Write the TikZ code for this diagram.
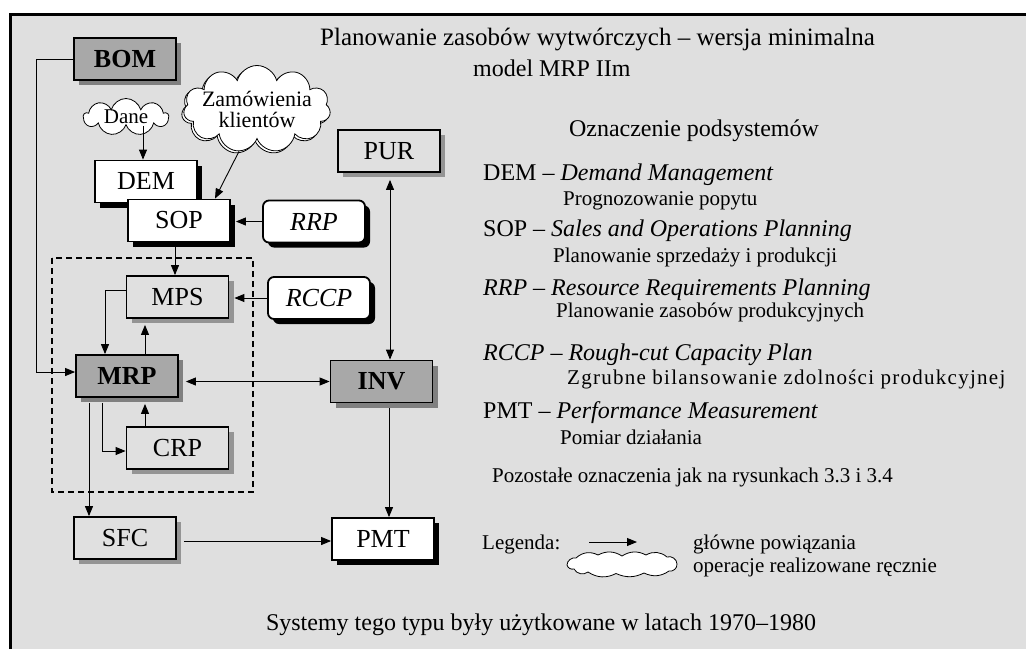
\documentclass[tikz,border=0pt]{standalone}
\usepackage{fontspec}
\setmainfont{Liberation Serif}
\newfontfamily\spacedfont[LetterSpace=6]{Liberation Serif}
\usetikzlibrary{arrows.meta,shapes.symbols,shadows,calc}

\definecolor{bgdots}{gray}{0.875}
\definecolor{boxdark}{gray}{0.66}
\definecolor{shdark}{gray}{0.50}
\definecolor{boxlight}{gray}{0.88}
\definecolor{shlight}{gray}{0.58}

\newcommand\fsz[1]{\fontsize{#1pt}{#1pt}\selectfont}

\tikzset{
  box/.style={draw=black, line width=1.8pt, minimum width=102pt, minimum height=42pt,
    inner sep=0pt, font=\fsz{26}},
  darkbox/.style={box, fill=boxdark, font=\fsz{26}\bfseries,
    drop shadow={shadow xshift=5pt, shadow yshift=-5pt, fill=shdark, opacity=1}},
  lightbox/.style={box, fill=boxlight,
    drop shadow={shadow xshift=5pt, shadow yshift=-5pt, fill=shlight, opacity=1}},
  whitebox/.style={box, fill=white,
    drop shadow={shadow xshift=5pt, shadow yshift=-5pt, fill=black, opacity=1}},
  roundbox/.style={whitebox, rounded corners=6pt, font=\fsz{26}\itshape},
  cloudy/.style={cloud, cloud ignores aspect, draw=black, line width=0.8pt, fill=white,
    inner sep=0pt},
  flatcloud/.style={draw=black, line width=0.8pt, fill=white},
  arr/.style={line width=0.9pt, -{Triangle[length=10pt,width=8pt]}},
  darr/.style={line width=0.9pt, {Triangle[length=10pt,width=8pt]}-{Triangle[length=10pt,width=8pt]}},
  txt/.style={inner sep=0pt, anchor=base west},
}

\begin{document}
\begin{tikzpicture}[x=1pt, y=-1pt]
\useasboundingbox (0,0) rectangle (1026,649);

% frame
\fill[bgdots] (10.5,14.5) rectangle (1026,649);
\draw[line width=2.5pt, line join=miter] (10.5,649) -- (10.5,14.5) -- (1026,14.5);

% titles
\node[txt, font=\fsz{25}] (title) at (320,45) {Planowanie zasobów wytwórczych – wersja minimalna};
\node[txt, font=\fsz{24}] (subtitle) at (473,76) {model MRP IIm};

% dashed group around MPS, MRP, CRP
\draw[line width=1.2pt, dash pattern=on 6pt off 4pt] (52,258) rectangle (253,492);

% subsystem boxes
\node[darkbox] (BOM) at (125,59) {BOM};
\node[whitebox] (DEM) at (146,181.5) {DEM};
\node[whitebox] (SOP) at (179,220.5) {SOP};
\node[roundbox] (RRP) at (314,221.5) {RRP};
\node[lightbox] (MPS) at (177.5,297) {MPS};
\node[roundbox] (RCCP) at (319,298) {RCCP};
\node[lightbox] (PUR) at (389,151) {PUR};
\node[darkbox] (MRP) at (127,376) {MRP};
\node[darkbox] (INV) at (381.5,381.5) {INV};
\node[lightbox] (CRP) at (177.5,448) {CRP};
\node[lightbox] (SFC) at (125,538) {SFC};
\node[whitebox] (PMT) at (383,539) {PMT};

% manual operations
\node[cloudy, cloud puffs=9, minimum width=85pt, minimum height=37pt] (Dane) at (126,117) {};
\node[font=\fsz{21}] (DaneT) at (Dane.center) {Dane};
\node[cloudy, cloud puffs=11, minimum width=147pt, minimum height=87pt,
  drop shadow={shadow xshift=-2pt, shadow yshift=-2pt, fill=white, draw=black, opacity=1}] (Zam) at (257,109) {};
\node[font=\fsz{22}, align=center, inner sep=0pt] (ZamT) at (Zam.center) {Zamówienia\\[-1pt]klientów};

% connectors
\coordinate (dx) at (143,0);
\coordinate (sx) at (175,0);
\coordinate (ux) at (145,0);
\coordinate (cx) at (102,0);
\coordinate (fx) at (89,0);
\coordinate (px) at (390,0);
\coordinate (ix) at (389,0);

\draw[arr] (BOM.west) -- ++(-37,0) |- ($(MRP.west)+(0,-4)$);
\draw[arr] (Dane.south -| dx) -- (DEM.north -| dx);
\draw[arr] (Zam.247) -- ($(SOP.north)+(36,0)$);
\draw[arr] (RRP.west) -- ($(RRP.west -| SOP.east)+(5,0)$);
\draw[arr] ($(SOP.south -| sx)+(0,5)$) -- (MPS.north -| sx);
\draw[arr] (RCCP.west) -- ($(RCCP.west -| MPS.east)+(5,0)$);
\draw[arr] ($(MPS.west)+(0,-7)$) -| ($(MRP.north)+(-22,0)$);
\draw[arr] (MRP.north -| ux) -- ($(MPS.south -| ux)+(0,6)$);
\draw[darr] ($(INV.west -| MRP.east)+(7,0)$) -- (INV.west);
\draw[darr] ($(PUR.south -| px)+(0,7)$) -- (INV.north -| px);
\draw[arr] ($(MRP.south -| cx)+(0,5)$) |- ($(CRP.west)+(0,3)$);
\draw[arr] (CRP.north -| ux) -- ($(MRP.south -| ux)+(0,6)$);
\draw[arr] ($(MRP.south -| fx)+(0,5)$) -- (SFC.north -| fx);
\draw[arr] ($(INV.south -| ix)+(0,5)$) -- (PMT.north -| ix);
\draw[arr] ($(SFC.east)+(7,3)$) -- ($(PMT.west)+(0,2)$);

% description of subsystems
\node[font=\fsz{24}, inner sep=0pt, anchor=base] (hdr) at (694,136) {Oznaczenie podsystemów};
\node[txt, font=\fsz{24}] (dDEM) at (483,180) {DEM – \textit{Demand Management}};
\node[txt, font=\fsz{21}] (pDEM) at (563,205) {Prognozowanie popytu};
\node[txt, font=\fsz{24}] (dSOP) at (483,236) {SOP – \textit{Sales and Operations Planning}};
\node[txt, font=\fsz{21}] (pSOP) at (553,262) {Planowanie sprzedaży i produkcji};
\node[txt, font=\fsz{24}\itshape] (dRRP) at (483,295) {RRP – Resource Requirements Planning};
\node[txt, font=\fsz{21}] (pRRP) at (556,317) {Planowanie zasobów produkcyjnych};
\node[txt, font=\fsz{24}\itshape] (dRCCP) at (483,360) {RCCP – Rough-cut Capacity Plan};
\node[txt, font=\spacedfont\fsz{21}] (pRCCP) at (567,384) {Zgrubne bilansowanie zdolności produkcyjnej};
\node[txt, font=\fsz{24}] (dPMT) at (483,418) {PMT – \textit{Performance Measurement}};
\node[txt, font=\fsz{21}] (pPMT) at (560,444) {Pomiar działania};
\node[txt, font=\fsz{21}] (rest) at (492,482) {Pozostałe oznaczenia jak na rysunkach 3.3 i 3.4};

% legend
\node[txt, font=\fsz{21}] (leg) at (482,549) {Legenda:};
\coordinate (la) at (589,542);
\coordinate (lb) at (637,542);
\draw[arr] (la) -- (lb);
% flat cloud symbol for manual operations
\begin{scope}[shift={(622,564)}]
  \draw[flatcloud] (-55,1)
    to[bend left=50] (-46,-6)
    to[bend left=35] (-24,-9)
    to[bend left=30] (0,-8)
    to[bend left=30] (24,-9)
    to[bend left=35] (45,-7)
    to[bend left=55] (55,0)
    to[bend left=55] (47,7)
    to[bend left=30] (22,9)
    to[bend left=25] (-6,9.5)
    to[bend left=30] (-34,8)
    to[bend left=50] (-48,5)
    to[bend left=45] cycle;
\end{scope}
\node[txt, font=\fsz{21}] (legA) at (693,549) {główne powiązania};
\node[txt, font=\fsz{21}] (legB) at (693,572) {operacje realizowane ręcznie};

% footer
\node[font=\fsz{24}, inner sep=0pt, anchor=base] (foot) at (541,630) {Systemy tego typu były użytkowane w latach 1970–1980};
\end{tikzpicture}
\end{document}
